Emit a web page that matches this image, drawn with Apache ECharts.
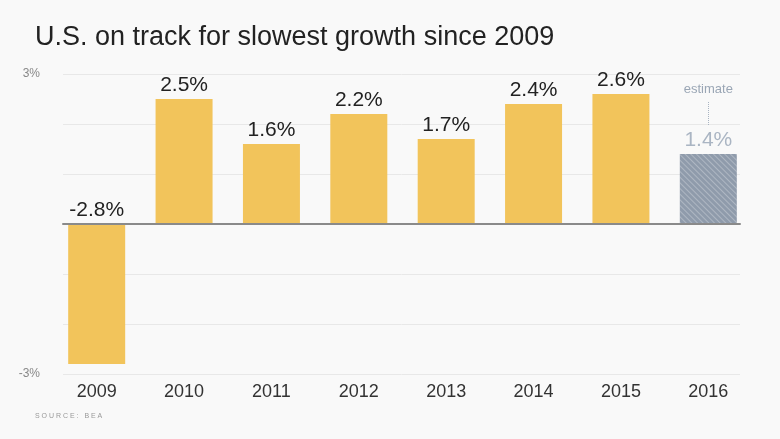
<!DOCTYPE html>
<html><head><meta charset="utf-8">
<script src="https://cdn.jsdelivr.net/npm/echarts@6/dist/echarts.min.js"></script>
<style>html,body{margin:0;padding:0;background:#f9f9f9}#c{width:780px;height:439px}</style>
</head><body><div id="c"></div>
<script>
const categories = ['2009','2010','2011','2012','2013','2014','2015','2016'];
const growth = [-2.8, 2.5, 1.6, 2.2, 1.7, 2.4, 2.6, 1.4];
const estimateIndex = 7;
const yTicks = [-3, 3];
const estimateLine = [1.98, 2.44];

const FONT = '"Liberation Sans", Arial, sans-serif';
const chart = echarts.init(document.getElementById('c'), null, {renderer:'canvas'});

const barData = growth.map((v, i) => {
  if (i === estimateIndex) {
    return {
      value: v,
      itemStyle: {
        color: '#8f9bab',
        decal: { symbol: 'rect', color: 'rgba(255,255,255,0.28)', dashArrayX: [1, 0], dashArrayY: [1, 3], rotation: Math.PI / 4, symbolSize: 1 }
      },
      label: { color: '#aab5c3' }
    };
  }
  return { value: v };
});

chart.setOption({
  backgroundColor: '#f9f9f9',
  animation: false,
  title: {
    text: 'U.S. on track for slowest growth since 2009',
    left: 30, top: 19,
    textStyle: { fontFamily: FONT, fontSize: 27, fontWeight: 'normal', color: '#222' }
  },
  graphic: [{
    type: 'text', left: 35, top: 413,
    style: { text: 'S O U R C E :   B E A', font: '7px ' + FONT, fill: '#999' }
  }],
  grid: [
    { left: 53, right: 28, top: 74, bottom: 65 },
    { left: 63, right: 40, top: 74, bottom: 65 }
  ],
  xAxis: [
    { type: 'category', gridIndex: 0, data: categories,
      axisLine: { show: false, onZero: false }, axisTick: { show: false },
      axisLabel: { margin: 9, fontFamily: FONT, fontSize: 18, color: '#333' } },
    { type: 'value', gridIndex: 1, min: 0, max: 1, z: 10,
      axisLine: { show: true, onZero: true, lineStyle: { color: '#8a8a8a', width: 2 } },
      axisTick: { show: false }, axisLabel: { show: false }, splitLine: { show: false } }
  ],
  yAxis: [
    { type: 'value', gridIndex: 0, min: -3, max: 3, interval: 1, show: false },
    { type: 'value', gridIndex: 1, min: -3, max: 3, interval: 1,
      axisLine: { show: false }, axisTick: { show: false },
      axisLabel: { margin: 23, fontFamily: FONT, fontSize: 12, color: '#888',
        formatter: v => yTicks.includes(v) ? v + '%' : '' },
      splitLine: { lineStyle: { color: '#e8e8e8', width: 1 } } }
  ],
  series: [{
    type: 'bar', xAxisIndex: 0, yAxisIndex: 0,
    data: barData,
    barWidth: 57,
    itemStyle: { color: '#f2c45b' },
    label: { show: true, position: 'top', distance: 3, fontFamily: FONT, fontSize: 21, color: '#222',
      formatter: p => p.value.toFixed(1) + '%' },
    markLine: {
      silent: true, symbol: 'none',
      lineStyle: { type: 'dotted', color: '#a9b4c2', width: 1 },
      label: { show: true, position: 'end', distance: 6, formatter: 'estimate', fontFamily: FONT, fontSize: 13, color: '#9aa6b5' },
      data: [[{ coord: [categories[estimateIndex], estimateLine[0]] }, { coord: [categories[estimateIndex], estimateLine[1]] }]]
    }
  }]
});
</script></body></html>
